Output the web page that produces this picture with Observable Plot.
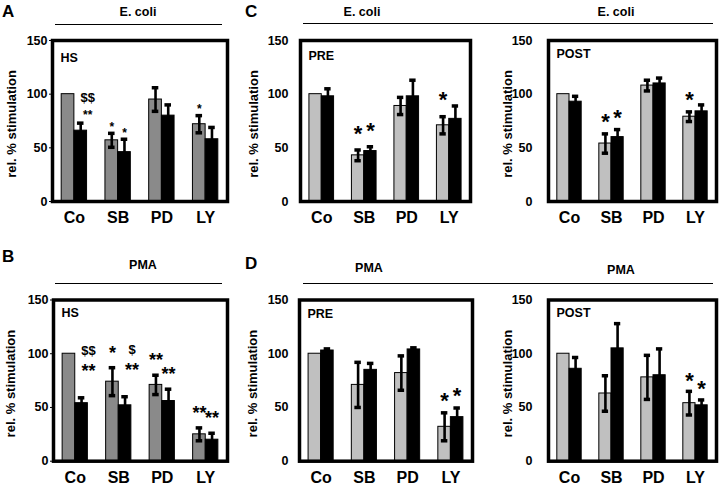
<!DOCTYPE html>
<html><head><meta charset="utf-8">
<script src="https://cdn.jsdelivr.net/npm/d3@7"></script>
<script src="https://cdn.jsdelivr.net/npm/@observablehq/plot@0.6"></script>
<style>
html,body{margin:0;padding:0;background:#fff;}
#chart{position:relative;width:720px;height:488px;font-family:"Liberation Sans",Arial,sans-serif;font-weight:bold;color:#000;overflow:hidden;background:#fff}
#chart svg{position:absolute;left:0;top:0;}
.hdr{position:absolute;white-space:nowrap;line-height:1;}
.letter{font-size:17px}
.cond{font-size:12.5px;transform:translateX(-50%)}
.rule{position:absolute;height:0;border-top:1.5px solid #000}
</style></head><body><div id="chart"></div>
<script>
// ---------- data ----------
const categories = ["Co", "SB", "PD", "LY"];
const yTicks = [0, 50, 100, 150];
const yTitle = "rel. % stimulation";

// A: E. coli, HS
const aGrey = [100, 57, 95, 72];
const aGreyErr = [0, 6.5, 11, 8];
const aBlack = [66, 46, 80, 58];
const aBlackErr = [7, 12, 10, 11];
const aStarsGrey = ["", "*", "", "*"];
const aStarsBlack = ["**", "*", "", ""];
const aDollarsBlack = ["$$", "", "", ""];

// C left: E. coli, PRE
const cPreGrey = [100, 43, 89, 71];
const cPreGreyErr = [0, 5, 8, 8];
const cPreBlack = [98, 47, 98, 77];
const cPreBlackErr = [7, 4, 15, 12];
const cPreStarsGrey = ["", "*", "", "*"];
const cPreStarsBlack = ["", "*", "", ""];

// C right: E. coli, POST
const cPostGrey = [100, 54, 108, 79];
const cPostGreyErr = [0, 9, 5, 4.5];
const cPostBlack = [93, 60, 110, 84];
const cPostBlackErr = [5, 7, 5, 6];
const cPostStarsGrey = ["", "*", "", "*"];
const cPostStarsBlack = ["", "*", "", ""];

// B: PMA, HS
const bGrey = [100, 74, 71, 25];
const bGreyErr = [0, 13, 9, 6];
const bBlack = [54, 52, 56, 20];
const bBlackErr = [5, 8, 11, 6];
const bStarsGrey = ["", "*", "**", "**"];
const bStarsBlack = ["**", "**", "**", "**"];
const bDollarsBlack = ["$$", "$", "", ""];

// D left: PMA, PRE
const dPreGrey = [100, 71, 82, 32];
const dPreGreyErr = [0, 21, 16, 13];
const dPreBlack = [103, 85, 104, 41];
const dPreBlackErr = [1.5, 6, 1.5, 8.5];
const dPreStarsGrey = ["", "", "", "*"];
const dPreStarsBlack = ["", "", "", "*"];

// D right: PMA, POST
const dPostGrey = [100, 63, 78, 54];
const dPostGreyErr = [0, 16.5, 20.5, 11];
const dPostBlack = [86, 105, 80, 52];
const dPostBlackErr = [10.5, 23, 24.5, 5];
const dPostStarsGrey = ["", "", "", "*"];
const dPostStarsBlack = ["", "", "", "*"];

// ---------- layout ----------
const FONT = '"Liberation Sans", Arial, sans-serif';
const DARK = "#8a8a8a", LIGHT = "#c0c0c0";
const panels = [
  {label: "HS", grey: aGrey, greyErr: aGreyErr, black: aBlack, blackErr: aBlackErr,
   starsGrey: aStarsGrey, starsBlack: aStarsBlack, dollarsBlack: aDollarsBlack,
   left: 52, right: 227, top: 40, bottom: 201, greyFill: DARK, labelDy: 17,
   tickSize: 3, tickPadding: 2, titleX: 11, starSize: 12, starLift: 9.5,
   stackDx: 7, stackStarLift: 11.5, dollarSize: 13, dollarLift: 26},
  {label: "PRE", grey: cPreGrey, greyErr: cPreGreyErr, black: cPreBlack, blackErr: cPreBlackErr,
   starsGrey: cPreStarsGrey, starsBlack: cPreStarsBlack,
   left: 300, right: 470, top: 40, bottom: 201, greyFill: LIGHT, labelDy: 15,
   tickSize: 0, tickPadding: 12, titleX: 253, starSize: 22, starLift: 22},
  {label: "POST", grey: cPostGrey, greyErr: cPostGreyErr, black: cPostBlack, blackErr: cPostBlackErr,
   starsGrey: cPostStarsGrey, starsBlack: cPostStarsBlack,
   left: 548, right: 716, top: 40, bottom: 201, greyFill: LIGHT, labelDy: 13.5,
   tickSize: 0, tickPadding: 16, titleX: 507, starSize: 22, starLift: 17.5},
  {label: "HS", grey: bGrey, greyErr: bGreyErr, black: bBlack, blackErr: bBlackErr,
   starsGrey: bStarsGrey, starsBlack: bStarsBlack, dollarsBlack: bDollarsBlack,
   left: 53, right: 227, top: 299.5, bottom: 460.7, greyFill: DARK, labelDy: 12.5,
   tickSize: 3, tickPadding: 2, titleX: 10, starSize: 18, starLift: 19.5,
   stackDx: 7, stackStarLift: 31, dollarSize: 13, dollarLift: 47},
  {label: "PRE", grey: dPreGrey, greyErr: dPreGreyErr, black: dPreBlack, blackErr: dPreBlackErr,
   starsGrey: dPreStarsGrey, starsBlack: dPreStarsBlack,
   left: 299, right: 472, top: 299.5, bottom: 460.7, greyFill: LIGHT, labelDy: 14,
   tickSize: 0, tickPadding: 11, titleX: 252, starSize: 22, starLift: 17.5},
  {label: "POST", grey: dPostGrey, greyErr: dPostGreyErr, black: dPostBlack, blackErr: dPostBlackErr,
   starsGrey: dPostStarsGrey, starsBlack: dPostStarsBlack,
   left: 548, right: 716, top: 299.5, bottom: 460.7, greyFill: LIGHT, labelDy: 12.5,
   tickSize: 0, tickPadding: 16, titleX: 507, starSize: 22, starLift: 16.5}
];

const chart = document.getElementById("chart");
const W = 0.29, CAP = 0.075;

function drawPanel(p) {
  const rows = [];
  categories.forEach((c, i) => {
    rows.push({i, s: 0, v: p.grey[i], e: p.greyErr[i], star: p.starsGrey[i], dollar: ""});
    rows.push({i, s: 1, v: p.black[i], e: p.blackErr[i], star: p.starsBlack[i],
               dollar: p.dollarsBlack ? p.dollarsBlack[i] : ""});
  });
  const cx = d => d.i + (d.s - 0.5) * W;
  const hi = d => d.v + d.e;
  const lo = d => d.v - d.e;
  const errRows = rows.filter(d => d.e > 0);
  const marks = [
    Plot.rect(rows.filter(d => d.s === 0), {x1: d => d.i - W, x2: d => d.i, y1: () => 0, y2: "v",
      fill: p.greyFill, stroke: "#000", strokeWidth: 1}),
    Plot.rect(rows.filter(d => d.s === 1), {x1: d => d.i, x2: d => d.i + W, y1: () => 0, y2: "v",
      fill: "#000", stroke: "#000", strokeWidth: 1}),
    Plot.ruleX(errRows, {x: cx, y1: lo, y2: hi, stroke: "#000", strokeWidth: 2.6}),
    Plot.ruleY(errRows, {y: hi, x1: d => cx(d) - CAP, x2: d => cx(d) + CAP, stroke: "#000", strokeWidth: 3.5}),
    Plot.ruleY(errRows, {y: lo, x1: d => cx(d) - CAP, x2: d => cx(d) + CAP, stroke: "#000", strokeWidth: 3.5}),
    Plot.frame({stroke: "#000", strokeWidth: 3.5}),
    Plot.text([p.label], {text: d => d, frameAnchor: "top-left", dx: 8, dy: p.labelDy,
      textAnchor: "start", lineAnchor: "middle", fontSize: 12.5}),
    Plot.text(categories, {text: d => d, x: (d, i) => i, frameAnchor: "bottom", dy: 16.5,
      lineAnchor: "middle", fontSize: 16}),
    Plot.text([yTitle], {text: d => d, frameAnchor: "left", dx: p.titleX - p.left, dy: 3, rotate: -90,
      textAnchor: "middle", lineAnchor: "middle", fontSize: 13}),
    Plot.text(rows.filter(d => d.star && !d.dollar), {x: cx, y: hi, text: "star", lineAnchor: "bottom",
      dy: -(p.starLift - 0.58 * p.starSize), fontSize: p.starSize, fill: "#000"})
  ];
  if (p.dollarsBlack) {
    // significance stacks ("$" above "*") sit a little right of the bar
    marks.push(Plot.text(rows.filter(d => d.star && d.dollar), {x: cx, y: hi, text: "star", lineAnchor: "bottom",
      dx: p.stackDx, dy: -(p.stackStarLift - 0.58 * p.starSize), fontSize: p.starSize, fill: "#000"}));
    marks.push(Plot.text(rows.filter(d => d.dollar), {x: cx, y: hi, text: "dollar", lineAnchor: "bottom",
      dx: p.stackDx, dy: -(p.dollarLift - 0.36 * p.dollarSize), fontSize: p.dollarSize, fill: "#000"}));
  }
  const svg = Plot.plot({
    width: 720, height: 488,
    marginLeft: p.left, marginRight: 720 - p.right, marginTop: p.top, marginBottom: 488 - p.bottom,
    style: {background: "transparent", fontFamily: FONT, fontWeight: "bold", fontSize: "12.5px", color: "#000"},
    x: {domain: [-0.5, 3.5], axis: null},
    y: {domain: [0, 150], ticks: yTicks, tickSize: p.tickSize, tickPadding: p.tickPadding, label: null},
    marks
  });
  chart.appendChild(svg);
}
panels.forEach(drawPanel);

// ---------- headers (panel letters, stimulus labels, rules) ----------
function addText(cls, text, left, top) {
  const el = document.createElement("div");
  el.className = "hdr " + cls;
  el.textContent = text;
  el.style.left = left + "px";
  el.style.top = top + "px";
  chart.appendChild(el);
}
function addRule(x1, x2, y) {
  const el = document.createElement("div");
  el.className = "rule";
  el.style.left = x1 + "px";
  el.style.width = (x2 - x1) + "px";
  el.style.top = y + "px";
  chart.appendChild(el);
}
const letters = ["A", "B", "C", "D"];
addText("letter", letters[0], 2, 3);
addText("letter", letters[1], 2, 248);
addText("letter", letters[2], 245, 3);
addText("letter", letters[3], 245, 255);
const stimuli = ["E. coli", "PMA"];
addText("cond", stimuli[0], 138, 6);
addText("cond", stimuli[0], 362, 6);
addText("cond", stimuli[0], 616, 6);
addText("cond", stimuli[1], 143, 259);
addText("cond", stimuli[1], 369, 262);
addText("cond", stimuli[1], 621, 264);
addRule(55, 222, 23.5);
addRule(303, 489, 23);
addRule(489, 713, 23);
addRule(55, 222, 282.5);
addRule(303, 489, 282.5);
addRule(489, 713, 282.5);
</script></body></html>
